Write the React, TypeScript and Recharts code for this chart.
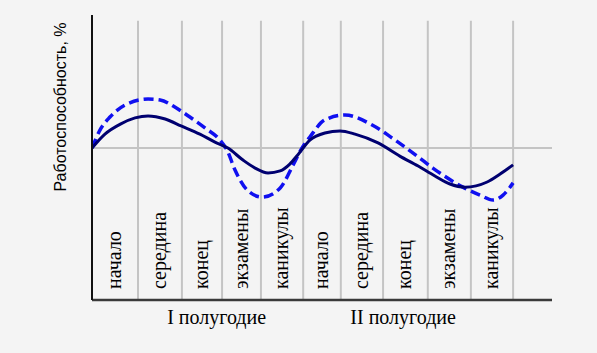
import React from 'react';
import { LineChart, Line, XAxis, YAxis, ReferenceLine, Label } from 'recharts';

const categories = [
  'начало', 'середина', 'конец', 'экзамены', 'каникулы',
  'начало', 'середина', 'конец', 'экзамены', 'каникулы',
];
// band edges along the time axis
const boundaries = [0, 1.1, 2.15, 3.11, 4.04, 5.05, 5.95, 6.96, 8.03, 9.06, 10.07];
const halves = ['I полугодие', 'II полугодие'];
const halfCenters = [2.98, 7.44];

const baseline = 53.3;

const solidX = [0, 0.31, 0.69, 1.03, 1.34, 1.75, 2.13, 2.58, 2.94, 3.25, 3.61, 3.9, 4.21, 4.5, 4.73, 4.92, 5.21, 5.57, 5.93, 6.29, 6.84, 7.36, 7.8, 8.2, 8.56, 8.92, 9.45, 9.76, 10.07];
const solidY = [53.3, 58.2, 61.8, 63.9, 64.6, 63.5, 61.1, 58.2, 55.4, 53.3, 49.1, 46.3, 44.6, 45.3, 47.7, 50.9, 56.1, 58.6, 59.3, 58.2, 55.1, 50.5, 47.0, 43.5, 40.7, 39.6, 41.4, 44.2, 47.4];

const dashedX = [0, 0.19, 0.43, 0.79, 1.34, 1.63, 1.98, 2.34, 2.7, 3.06, 3.23, 3.42, 3.71, 4.07, 4.5, 4.81, 5.02, 5.21, 5.57, 6.05, 6.7, 7.25, 7.8, 8.15, 8.87, 9.28, 9.59, 9.83, 10.07];
const dashedY = [53.3, 59.6, 64.2, 68.4, 70.5, 70.2, 67.7, 64.2, 60.4, 56.1, 52.6, 45.6, 38.6, 36.1, 39.3, 47.4, 53.3, 57.2, 63.2, 64.9, 61.4, 56.1, 50.2, 46.3, 39.6, 36.8, 35.1, 36.8, 41.1];

const solidData = solidX.map((u, i) => ({ u, v: solidY[i] }));
const dashedData = dashedX.map((u, i) => ({ u, v: dashedY[i] }));
const bandCenters = categories.map((_, i) => (boundaries[i] + boundaries[i + 1]) / 2);

const serif = '"Liberation Serif", "Times New Roman", serif';

const CategoryTick = (props: any) => {
  const { x, y, index } = props;
  const ty = y - 11;
  return (
    <text x={x} y={ty} dy={6} transform={`rotate(-90 ${x} ${ty})`} textAnchor="start"
      fontFamily={serif} fontSize={20} fill="#000">
      {categories[index]}
    </text>
  );
};

const HalfTick = (props: any) => {
  const { x, y, index } = props;
  return (
    <text x={x} y={y + 14} textAnchor="middle" fontFamily={serif} fontSize={20} fill="#000">
      {halves[index]}
    </text>
  );
};

const YLabel = (props: any) => {
  const { viewBox } = props;
  const x = viewBox.x + viewBox.width - 26;
  const y = viewBox.y + 92;
  return (
    <text x={x} y={y} transform={`rotate(-90 ${x} ${y})`} textAnchor="middle"
      fontFamily='"Liberation Sans", Arial, sans-serif' fontSize={16} fill="#000">
      Работоспособность, %
    </text>
  );
};

export default function App() {
  return (
    <div style={{ position: 'absolute', left: 0, top: 0, width: 597, height: 353, background: '#f4f4f4' }}>
      <LineChart width={597} height={353} data={solidData}
        margin={{ top: 15, right: 45, bottom: 13, left: 32 }}>
        <XAxis dataKey="u" type="number" domain={[0, 11]} ticks={bandCenters} interval={0}
          allowDataOverflow height={10} tickSize={0} tickMargin={0} tickLine={false}
          axisLine={{ stroke: '#3a3a3a', strokeWidth: 2.5 }} tick={<CategoryTick />} />
        <XAxis xAxisId="half" dataKey="u" type="number" domain={[0, 11]} ticks={halfCenters}
          interval={0} height={30} tickSize={0} tickMargin={0} tickLine={false} axisLine={false}
          tick={<HalfTick />} />
        <YAxis type="number" domain={[0, 100]} width={60} tick={false} tickLine={false}
          axisLine={{ stroke: '#111', strokeWidth: 2 }}>
          <Label content={<YLabel />} />
        </YAxis>
        <ReferenceLine y={baseline} stroke="#c4c4c4" strokeWidth={2} />
        {boundaries.slice(1).map((b, i) => (
          <ReferenceLine key={i} segment={[{ x: b, y: 0 }, { x: b, y: 98 }]}
            stroke="#c4c4c4" strokeWidth={2} />
        ))}
        <Line data={dashedData} dataKey="v" type="monotone" stroke="#1010f0" strokeWidth={3.5}
          strokeDasharray="10 5" dot={false} activeDot={false} isAnimationActive={false} />
        <Line data={solidData} dataKey="v" type="monotone" stroke="#000070" strokeWidth={3}
          dot={false} activeDot={false} isAnimationActive={false} />
      </LineChart>
    </div>
  );
}
